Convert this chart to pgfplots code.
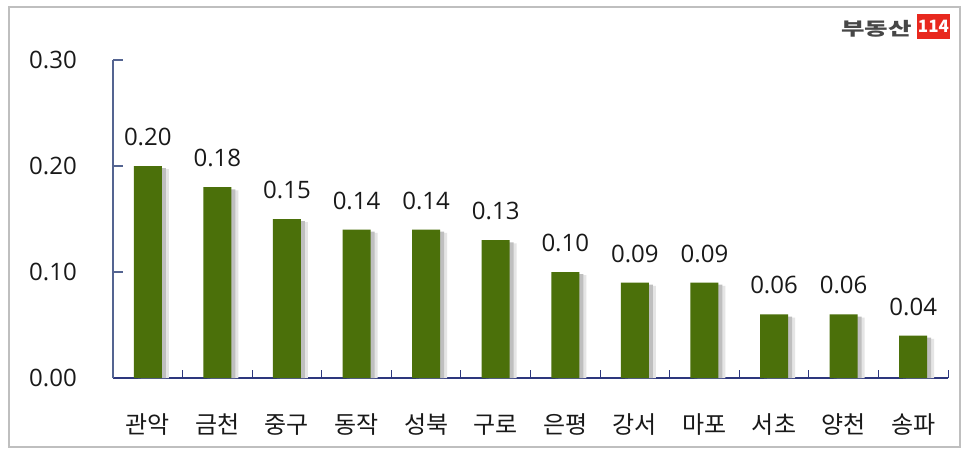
\documentclass[border=0pt]{standalone}
\usepackage{graphicx}
\usepackage{pgfplots}
\pgfplotsset{compat=1.18}
\usepackage{fontspec}
\setmainfont{Open Sans}
\newfontfamily\kr{Noto Sans CJK KR}
\definecolor{barg}{RGB}{75,112,10}
\definecolor{yax}{RGB}{84,100,145}
\definecolor{xax}{RGB}{45,55,125}
\definecolor{logored}{RGB}{232,40,30}
\begin{document}
\begin{tikzpicture}[x=1pt,y=1pt]
\useasboundingbox (0,0) rectangle (977,456);
\fill[white] (0,0) rectangle (977,456);
\draw[line width=1.5pt, color=black!25] (9,9) rectangle (960,449);
\fill[logored] (917,417) rectangle (950,442);
\node[text=white, font=\kr\bfseries\fontsize{17}{17}\selectfont, inner sep=0pt] at (933.5,429.5) {114};
\node[anchor=east, text=black!72, font=\kr\bfseries\fontsize{18}{18}\selectfont, inner sep=0pt] at (912,427) {\scalebox{1.42}[1]{부동산}};
\begin{axis}[
  at={(113pt,78pt)}, anchor=south west,
  scale only axis, width=835pt, height=318pt,
  xmin=-0.5, xmax=11.5, ymin=0, ymax=0.3,
  ybar, bar width=28pt,
  axis lines*=left,
  tick align=inside,
  x axis line style={color=xax, line width=1.2pt},
  y axis line style={color=yax, line width=1.2pt},
  xtick={0,...,11},
  xticklabels={관악,금천,중구,동작,성북,구로,은평,강서,마포,서초,양천,송파},
  major x tick style={draw=none},
  minor xtick={-0.5,0.5,...,11.5},
  minor x tick style={color=xax, line width=1pt},
  minor tick length=8pt,
  xticklabel style={font=\kr\fontsize{24}{24}\selectfont, anchor=base, inner sep=0pt, yshift=-55pt, text=black!90},
  ytick={0,0.1,0.2,0.3},
  yticklabels={0.00,0.10,0.20,0.30},
  ytick style={color=yax, line width=1.2pt},
  major tick length=10pt,
  yticklabel style={font=\fontsize{24}{24}\selectfont, anchor=east, inner sep=0pt, xshift=-36pt, text=black!90},
  clip=false,
]
\addplot[draw=none, fill=black!10, bar shift=7pt, forget plot] coordinates {
(0,0.197) (1,0.177) (2,0.147) (3,0.137) (4,0.137) (5,0.127) (6,0.097) (7,0.087) (8,0.087) (9,0.057) (10,0.057) (11,0.037)};
\addplot[draw=none, fill=black!25, bar shift=4pt, forget plot] coordinates {
(0,0.198) (1,0.178) (2,0.148) (3,0.138) (4,0.138) (5,0.128) (6,0.098) (7,0.088) (8,0.088) (9,0.058) (10,0.058) (11,0.038)};
\addplot[draw=none, fill=barg, bar shift=0pt,
  point meta=explicit symbolic,
  nodes near coords,
  every node near coord/.append style={font=\fontsize{24}{24}\selectfont, anchor=south, inner sep=0pt, yshift=20pt, text=black!90}]
coordinates {
(0,0.20) [0.20] (1,0.18) [0.18] (2,0.15) [0.15] (3,0.14) [0.14] (4,0.14) [0.14] (5,0.13) [0.13]
(6,0.10) [0.10] (7,0.09) [0.09] (8,0.09) [0.09] (9,0.06) [0.06] (10,0.06) [0.06] (11,0.04) [0.04]};
\end{axis}
\end{tikzpicture}
\end{document}
